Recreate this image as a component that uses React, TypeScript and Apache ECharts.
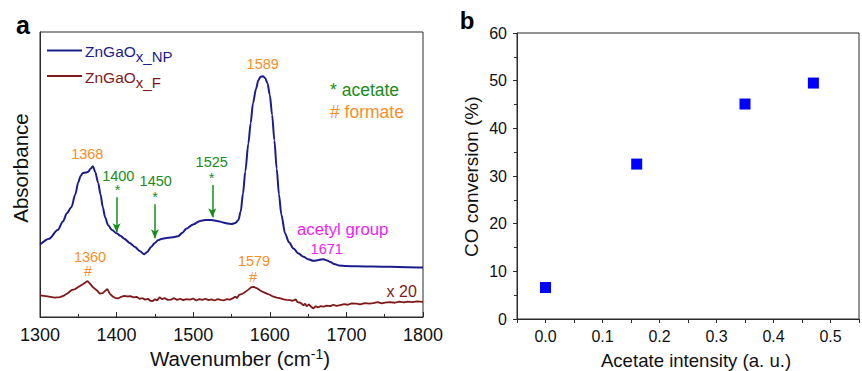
import React, { useEffect, useRef } from "react";
import * as echarts from "echarts";

// Panel a: FTIR spectra (wavenumber, absorbance in arbitrary units)
const npSpectrum: [number, number][] = [
  [1300, 0.254], [1312, 0.275], [1323, 0.305], [1330, 0.335], [1335, 0.364], [1341, 0.385],
  [1346, 0.43], [1350, 0.473], [1353, 0.495], [1356, 0.505], [1360, 0.507], [1363, 0.51],
  [1366, 0.52], [1369, 0.529], [1372, 0.51], [1376, 0.47], [1379, 0.43], [1382, 0.385],
  [1385, 0.35], [1389, 0.322], [1394, 0.305], [1400, 0.294], [1405, 0.285], [1410, 0.275],
  [1417, 0.26], [1424, 0.246], [1430, 0.232], [1436, 0.22], [1440, 0.228], [1445, 0.246],
  [1450, 0.26], [1454, 0.269], [1460, 0.275], [1467, 0.278], [1474, 0.28], [1480, 0.283],
  [1486, 0.296], [1491, 0.31], [1500, 0.325], [1509, 0.337], [1516, 0.34], [1524, 0.34],
  [1531, 0.337], [1539, 0.332], [1545, 0.328], [1550, 0.326], [1555, 0.33], [1559, 0.34],
  [1562, 0.37], [1565, 0.433], [1568, 0.51], [1572, 0.609], [1575, 0.68], [1578, 0.75],
  [1582, 0.8], [1585, 0.831], [1588, 0.843], [1591, 0.845], [1594, 0.838], [1597, 0.82],
  [1600, 0.78], [1603, 0.71], [1606, 0.62], [1609, 0.52], [1612, 0.43], [1615, 0.36],
  [1620, 0.293], [1625, 0.262], [1631, 0.24], [1637, 0.224], [1644, 0.211], [1650, 0.203],
  [1657, 0.197], [1664, 0.2], [1670, 0.203], [1675, 0.198], [1679, 0.193], [1684, 0.186],
  [1690, 0.181], [1700, 0.179], [1713, 0.178], [1735, 0.177], [1757, 0.176], [1780, 0.175],
  [1800, 0.174],
];

const fSpectrum: [number, number][] = [
  [1300, 0.076], [1310, 0.072], [1319, 0.068], [1326, 0.07], [1332, 0.076], [1337, 0.085],
  [1341, 0.094], [1346, 0.098], [1350, 0.105], [1356, 0.115], [1362, 0.126], [1365, 0.118],
  [1369, 0.105], [1374, 0.094], [1378, 0.082], [1382, 0.084], [1386, 0.094], [1388, 0.098],
  [1391, 0.082], [1395, 0.072], [1399, 0.066], [1402, 0.065], [1406, 0.071], [1410, 0.074],
  [1414, 0.072], [1418, 0.073], [1422, 0.069], [1426, 0.071], [1430, 0.064], [1434, 0.066],
  [1437, 0.061], [1441, 0.064], [1444, 0.057], [1447, 0.056], [1450, 0.062], [1453, 0.058],
  [1456, 0.069], [1459, 0.063], [1463, 0.066], [1467, 0.06], [1471, 0.061], [1475, 0.066],
  [1479, 0.06], [1483, 0.064], [1487, 0.059], [1491, 0.063], [1496, 0.061], [1500, 0.065],
  [1504, 0.058], [1508, 0.063], [1512, 0.06], [1516, 0.064], [1520, 0.059], [1524, 0.062],
  [1528, 0.058], [1532, 0.063], [1536, 0.06], [1540, 0.058], [1544, 0.063], [1548, 0.061],
  [1552, 0.066], [1555, 0.072], [1557, 0.066], [1560, 0.078], [1563, 0.08], [1566, 0.084],
  [1569, 0.09], [1572, 0.096], [1576, 0.105], [1579, 0.106], [1581, 0.103], [1584, 0.1],
  [1587, 0.094], [1591, 0.088], [1596, 0.082], [1600, 0.078], [1604, 0.072], [1609, 0.068],
  [1613, 0.066], [1618, 0.062], [1622, 0.06], [1626, 0.059], [1630, 0.057], [1634, 0.062],
  [1636, 0.052], [1640, 0.05], [1644, 0.041], [1646, 0.047], [1648, 0.038], [1651, 0.044],
  [1654, 0.036], [1657, 0.03], [1660, 0.038], [1663, 0.033], [1666, 0.038], [1670, 0.036],
  [1674, 0.04], [1679, 0.038], [1683, 0.043], [1687, 0.039], [1692, 0.042], [1697, 0.045],
  [1702, 0.043], [1707, 0.048], [1713, 0.047], [1718, 0.044], [1724, 0.049], [1730, 0.047],
  [1735, 0.049], [1741, 0.052], [1746, 0.048], [1752, 0.051], [1757, 0.052], [1763, 0.05],
  [1769, 0.054], [1775, 0.051], [1780, 0.054], [1786, 0.052], [1792, 0.055], [1800, 0.053],
];

// Acetate marker arrows: [wavenumber, start value, tip value]
const acetateArrows: [number, number, number][] = [
  [1400, 0.42, 0.297],
  [1450, 0.396, 0.276],
  [1525, 0.463, 0.35],
];

// Panel b: CO conversion vs acetate intensity
const acetateIntensity = [0.0, 0.16, 0.35, 0.47];
const coConversion = [6.6, 32.5, 45.1, 49.5];

const FONT = "Liberation Sans, Arial, Helvetica, sans-serif";
const NAVY = "#1c1c8c";
const DARKRED = "#7f1919";
const GREEN = "#1a8c1a";
const ORANGE = "#f98e27";
const MAGENTA = "#f01ef0";
const AXIS = "#2b2b2b";

function txt(text: string, x: number, y: number, size: number, color: string, extra: any = {}) {
  return {
    type: "text",
    x,
    y,
    style: {
      text,
      fill: color,
      font: `${size}px ${FONT}`,
      fontSize: size,
      fontFamily: FONT,
      align: "center",
      verticalAlign: "middle",
      ...extra,
    },
    silent: true,
  };
}

export default function App() {
  const ref = useRef<HTMLDivElement>(null);
  useEffect(() => {
    if (!ref.current) return;
    const chart = echarts.init(ref.current, undefined, { renderer: "svg" });

    const option: any = {
      animation: false,
      backgroundColor: "#ffffff",
      textStyle: { fontFamily: FONT },
      grid: [
        { left: 40, right: 439, top: 32, bottom: 54, show: true, borderColor: AXIS, borderWidth: 1 },
        { left: 517, right: -11, top: 33, bottom: 52, show: true, borderColor: AXIS, borderWidth: 1 },
      ],
      xAxis: [
        {
          gridIndex: 0,
          type: "value",
          min: 1300,
          max: 1800,
          interval: 100,
          axisLine: { onZero: false, lineStyle: { color: AXIS, width: 1 } },
          axisTick: { inside: true, length: 5, lineStyle: { color: AXIS } },
          minorTick: { show: true, splitNumber: 2, length: 3, lineStyle: { color: AXIS } },
          axisLabel: { fontSize: 18, color: "#111", margin: 9, fontFamily: FONT, formatter: (v: number) => String(v) },
          splitLine: { show: false },
        },
        {
          gridIndex: 1,
          type: "value",
          min: -0.05,
          max: 0.55,
          interval: 0.05,
          axisLine: { onZero: false, lineStyle: { color: AXIS, width: 1 } },
          axisTick: { length: 4, lineStyle: { color: AXIS } },
          axisLabel: {
            fontSize: 16,
            color: "#111",
            margin: 9,
            fontFamily: FONT,
            formatter: (v: number) => {
              const k = Math.round(v * 100);
              if (k < 0 || k % 10 !== 0) return "";
              return (k / 100).toFixed(1);
            },
          },
          splitLine: { show: false },
        },
      ],
      yAxis: [
        {
          gridIndex: 0,
          type: "value",
          min: 0,
          max: 1,
          axisLine: { show: true, onZero: false, lineStyle: { color: AXIS, width: 1 } },
          axisTick: { show: false },
          axisLabel: { show: false },
          splitLine: { show: false },
        },
        {
          gridIndex: 1,
          type: "value",
          min: 0,
          max: 60,
          interval: 10,
          axisLine: { show: true, onZero: false, lineStyle: { color: AXIS, width: 1 } },
          axisTick: { length: 4, lineStyle: { color: AXIS } },
          minorTick: { show: true, splitNumber: 2, length: 3, lineStyle: { color: AXIS } },
          axisLabel: { fontSize: 16, color: "#111", margin: 10, fontFamily: FONT },
          splitLine: { show: false },
        },
      ],
      series: [
        {
          type: "line",
          xAxisIndex: 0,
          yAxisIndex: 0,
          data: npSpectrum,
          showSymbol: false,
          smooth: 0.3,
          smoothMonotone: "x",
          lineStyle: { color: NAVY, width: 2 },
          z: 3,
        },
        {
          type: "line",
          xAxisIndex: 0,
          yAxisIndex: 0,
          data: fSpectrum,
          showSymbol: false,
          lineStyle: { color: DARKRED, width: 1.8 },
          z: 3,
          markLine: {
            silent: true,
            symbol: ["none", "arrow"],
            symbolSize: [6, 9],
            label: { show: false },
            lineStyle: { color: GREEN, width: 1.5, type: "solid" },
            data: acetateArrows.map(([w, a, b]) => [
              { coord: [w, a] },
              { coord: [w, b] },
            ]),
          },
        },
        {
          type: "scatter",
          xAxisIndex: 1,
          yAxisIndex: 1,
          data: acetateIntensity.map((x, i) => [x, coConversion[i]]),
          symbol: "rect",
          symbolSize: 11,
          itemStyle: { color: "#0000ff", opacity: 1 },
        },
      ],
      graphic: [
        // panel letters
        txt("a", 23, 25, 25, "#000", { fontWeight: "bold", font: `bold 25px ${FONT}` }),
        txt("b", 467, 20, 24, "#000", { fontWeight: "bold", font: `bold 24px ${FONT}` }),
        // legend
        { type: "line", shape: { x1: 47, y1: 50.5, x2: 82, y2: 50.5 }, style: { stroke: NAVY, lineWidth: 2 }, silent: true },
        { type: "line", shape: { x1: 47, y1: 76, x2: 82, y2: 76 }, style: { stroke: DARKRED, lineWidth: 2 }, silent: true },
        {
          type: "text",
          x: 85,
          y: 43,
          silent: true,
          style: {
            text: "{n|ZnGaO}{s|x_NP}",
            fill: NAVY,
            rich: {
              n: { fontSize: 15.5, fontFamily: FONT, fill: NAVY, lineHeight: 15, verticalAlign: "top" },
              s: { fontSize: 15, fontFamily: FONT, fill: NAVY, lineHeight: 15, padding: [6, 0, 0, 0], verticalAlign: "top" },
            },
          },
        },
        {
          type: "text",
          x: 85,
          y: 69,
          silent: true,
          style: {
            text: "{n|ZnGaO}{s|x_F}",
            fill: DARKRED,
            rich: {
              n: { fontSize: 15.5, fontFamily: FONT, fill: DARKRED, lineHeight: 15, verticalAlign: "top" },
              s: { fontSize: 15, fontFamily: FONT, fill: DARKRED, lineHeight: 15, padding: [6, 0, 0, 0], verticalAlign: "top" },
            },
          },
        },
        // key
        txt("* acetate", 330, 89.5, 17.5, GREEN, { align: "left" }),
        txt("# formate", 330, 112, 17.5, ORANGE, { align: "left" }),
        // peak labels
        txt("1589", 262.7, 64, 14.5, ORANGE),
        txt("1368", 87.3, 154, 14.5, ORANGE),
        txt("1400", 118.3, 175.7, 14.5, GREEN),
        txt("*", 117.5, 190, 14.5, GREEN),
        txt("1450", 155.7, 181, 14.5, GREEN),
        txt("*", 155, 197, 14.5, GREEN),
        txt("1525", 211.7, 162.3, 14.5, GREEN),
        txt("*", 211.7, 178, 14.5, GREEN),
        txt("acetyl group", 342.7, 229.3, 16.8, MAGENTA),
        txt("1671", 326.7, 249, 14.5, MAGENTA),
        txt("1360", 90, 256.7, 14.5, ORANGE),
        txt("#", 88, 271, 14.5, ORANGE),
        txt("1579", 254, 261, 14.5, ORANGE),
        txt("#", 253, 277, 14.5, ORANGE),
        txt("x 20", 401.7, 291.7, 16, DARKRED),
        // axis titles
        {
          type: "text",
          x: 20,
          y: 168,
          rotation: Math.PI / 2,
          silent: true,
          style: { text: "Absorbance", fill: "#111", font: `20.5px ${FONT}`, fontSize: 20.5, fontFamily: FONT, align: "center", verticalAlign: "middle" },
        },
        {
          type: "text",
          x: 240,
          y: 358,
          silent: true,
          style: {
            text: "{a|Wavenumber (cm}{s|-1}{a|)}",
            align: "center",
            verticalAlign: "middle",
            fill: "#111",
            rich: {
              a: { fontSize: 20.5, fontFamily: FONT, fill: "#111", lineHeight: 22, verticalAlign: "bottom" },
              s: { fontSize: 14, fontFamily: FONT, fill: "#111", lineHeight: 22, verticalAlign: "top" },
            },
          },
        },
        {
          type: "text",
          x: 471,
          y: 176.7,
          rotation: Math.PI / 2,
          silent: true,
          style: { text: "CO conversion (%)", fill: "#111", font: `19px ${FONT}`, fontSize: 19, fontFamily: FONT, align: "center", verticalAlign: "middle" },
        },
        {
          type: "text",
          x: 696,
          y: 360,
          silent: true,
          style: { text: "Acetate intensity (a. u.)", fill: "#111", font: `18.6px ${FONT}`, fontSize: 18.6, fontFamily: FONT, align: "center", verticalAlign: "middle" },
        },
      ],
    };
    chart.setOption(option);
    return () => chart.dispose();
  }, []);

  return (
    <div
      ref={ref}
      style={{ position: "fixed", left: 0, top: 0, width: 862, height: 371, background: "#fff" }}
    />
  );
}
